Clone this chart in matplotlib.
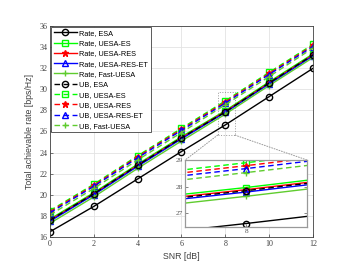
import matplotlib.pyplot as plt
from matplotlib.patches import Rectangle, ConnectionPatch

snr = [0, 2, 4, 6, 8, 10, 12]

rate_esa = [16.5, 18.9, 21.5, 24.1, 26.62, 29.3, 31.98]
rate_uesa_es = [17.7, 20.2, 22.9, 25.5, 27.97, 30.7, 33.35]
rate_uesa_res = [17.6, 20.1, 22.8, 25.4, 27.89, 30.6, 33.25]
rate_uesa_res_et = [17.5, 20.0, 22.7, 25.3, 27.8, 30.5, 33.15]
rate_fast = [17.3, 19.8, 22.5, 25.1, 27.64, 30.35, 33.0]
ub_esa = [17.6, 20.1, 22.8, 25.4, 27.85, 30.6, 33.25]
ub_uesa_es = [18.5, 21.0, 23.7, 26.3, 28.9, 31.6, 34.25]
ub_uesa_res = [18.4, 20.9, 23.6, 26.2, 28.79, 31.5, 34.15]
ub_uesa_res_et = [18.3, 20.8, 23.5, 26.1, 28.68, 31.4, 34.05]
ub_fast = [18.1, 20.6, 23.3, 25.9, 28.53, 31.2, 33.9]

labels = ['Rate, ESA', 'Rate, UESA-ES', 'Rate, UESA-RES', 'Rate, UESA-RES-ET',
          'Rate, Fast-UESA', 'UB, ESA', 'UB, UESA-ES', 'UB, UESA-RES',
          'UB, UESA-RES-ET', 'UB, Fast-UESA']

c_fast = '#5fcc2e'
series = [
    (rate_esa, 'k', 'o', '-'),
    (rate_uesa_es, '#00ff00', 's', '-'),
    (rate_uesa_res, 'r', '*', '-'),
    (rate_uesa_res_et, 'b', '^', '-'),
    (rate_fast, c_fast, '+', '-'),
    (ub_esa, 'k', 'o', '--'),
    (ub_uesa_es, '#00ff00', 's', '--'),
    (ub_uesa_res, 'r', '*', '--'),
    (ub_uesa_res_et, 'b', '^', '--'),
    (ub_fast, c_fast, '+', '--'),
]

plt.rcParams['font.family'] = ['Liberation Sans', 'DejaVu Sans']

fig = plt.figure(figsize=(3.39, 2.65), dpi=100)
ax = fig.add_axes([0.1475, 0.1057, 0.7755, 0.7963])


def draw(a, ms):
    for (y, c, m, ls), lab in zip(series, labels):
        mfc = c if m == '*' else 'none'
        a.plot(snr, y, color=c, linestyle=ls, marker=m, markersize=ms,
               markerfacecolor=mfc, markeredgewidth=1.0, linewidth=1.0,
               dashes=(4, 2.5) if ls == '--' else (None, None), label=lab)


draw(ax, 4.5)
ax.set_xlim(0, 12)
ax.set_ylim(16, 36)
ax.set_xticks(range(0, 13, 2))
ax.set_yticks(range(16, 37, 2))
ax.grid(True, color='#e3e3e3', linewidth=0.6)
ax.set_axisbelow(True)
ax.tick_params(direction='in', length=2.5, width=0.5, labelsize=5.8, pad=2,
               colors='#404040')
for t in ax.get_xticklabels() + ax.get_yticklabels():
    t.set_family('Liberation Serif')
for s in ax.spines.values():
    s.set_linewidth(0.6)
    s.set_color('#404040')
ax.set_xlabel('SNR [dB]', fontsize=6.3, color='#404040', labelpad=3)
ax.set_ylabel('Total achievable rate [bps/Hz]', fontsize=6.3, color='#404040', labelpad=4)

leg = ax.legend(loc='upper left', fontsize=5.3, handlelength=3.2,
                handletextpad=0.3, borderpad=0.35, labelspacing=0.43,
                borderaxespad=0.15, fancybox=False, framealpha=1)
leg.get_frame().set_edgecolor('#404040')
leg.get_frame().set_linewidth(0.6)

# zoom box
ax.add_patch(Rectangle((7.65, 25.65), 0.8, 4.05, fill=False, edgecolor='#999999',
                       linestyle=':', linewidth=0.7))

axin = fig.add_axes([0.546, 0.1445, 0.36, 0.2515])
draw(axin, 4.5)
axin.set_xlim(7.8, 8.2)
axin.set_ylim(26.5, 29)
axin.set_xticks([8])
axin.set_yticks([27, 28, 29])
axin.tick_params(direction='in', length=2, width=0.5, labelsize=5.3, pad=1.5,
                 colors='#555555', right=True, top=True)
for t in axin.get_xticklabels() + axin.get_yticklabels():
    t.set_family('Liberation Serif')
for s in axin.spines.values():
    s.set_linewidth(0.9)
    s.set_color('#999999')

for (xa, ya, xb, yb) in [(7.65, 25.65, 7.8, 29), (8.45, 25.65, 8.2, 29)]:
    con = ConnectionPatch(xyA=(xa, ya), coordsA=ax.transData,
                          xyB=(xb, yb), coordsB=axin.transData,
                          color='#999999', linestyle=':', linewidth=0.7)
    fig.add_artist(con)

fig.savefig('out.png', dpi=100)
